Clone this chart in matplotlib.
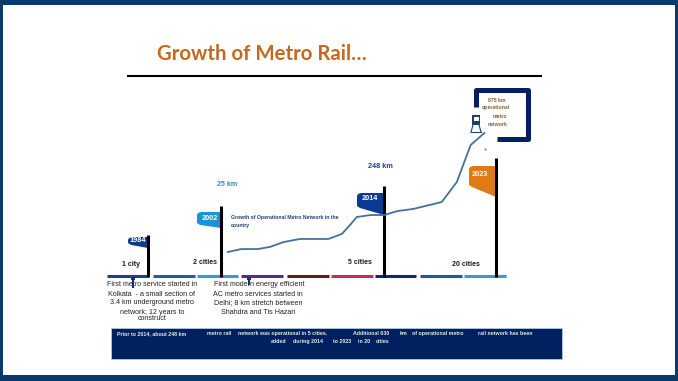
"""Growth of Metro Rail slide, redrawn with matplotlib."""

import matplotlib
matplotlib.use("Agg")
import matplotlib.pyplot as plt
import numpy as np
from matplotlib.patches import Polygon, Rectangle

W, H = 678, 381

NAVY = "#002060"
FRAME = "#0a3a6b"
ORANGE = "#c8681e"

# operational network
line_years = [2002.5, 2003.5, 2004.7, 2005.6, 2006.6, 2007.8, 2009.9, 2010.9, 2011.5, 2012.0,
              2013.0, 2014.0, 2015.1, 2016.3, 2018.6, 2019.8, 2020.9, 2022.0]
line_km = [25, 46, 46, 61, 96, 118, 118, 154, 218, 275, 289, 289, 318, 332, 382, 525, 789, 875]

flag_years = [1984, 2002, 2014, 2023]
flag_x = [148, 221, 384, 496]
flag_top = [235, 206, 186, 158]
flag_colors = ["#0f3a8c", "#1a94d6", "#0b3a94", "#e07b14"]

segment_starts = [107, 153, 197, 241, 287, 331, 375, 420, 464]
segment_ends = [148, 195, 238, 283, 329, 373, 416, 462, 506]
segment_colors = ["#1f3f8f", "#1f5fa0", "#2a9fd0", "#5b2d82", "#5c1f1f",
                  "#c0305a", "#13296b", "#1f5a9c", "#2ea0cc"]

city_labels = ["1 city", "2 cities", "5 cities", "20 cities"]
city_x = [131, 205, 360, 466]
city_y = [265, 263, 263, 264]


def flag(ax, x, top, left, left_bottom, bottom, color):
    # flat top, rounded outer corner, bottom slanting down to the pole
    pts = [(x, top), (left + 4, top), (left + 1, top + 1), (left, top + 3),
           (left, left_bottom - 2), (left + 3, left_bottom), (x, bottom)]
    ax.add_patch(Polygon(pts, closed=True, fc=color, ec="none", zorder=3))


def main():
    plt.rcParams["font.family"] = ["Liberation Sans", "DejaVu Sans"]
    fig = plt.figure(figsize=(W / 100, H / 100), dpi=100, facecolor=FRAME)
    ax = fig.add_axes([0, 0, 1, 1])
    ax.set_xlim(0, W)
    ax.set_ylim(H, 0)
    ax.axis("off")

    ax.add_patch(Rectangle((3, 5), 672, 370, fc="white", ec="none", zorder=0))

    ax.text(157, 54, "Growth of Metro Rail…", fontsize=14.7, fontweight="bold", color=ORANGE,
            ha="left", va="center", family=["Lato", "Liberation Sans"])
    ax.plot([127, 542], [76, 76], color="black", lw=1.5, solid_capstyle="butt")

    for start, end, color in zip(segment_starts, segment_ends, segment_colors):
        ax.plot([start, end], [276, 276], color=color, lw=2.2, solid_capstyle="butt", zorder=2)

    for x, top in zip(flag_x, flag_top):
        ax.plot([x, x], [top, 277], color="black", lw=2.2, solid_capstyle="butt", zorder=4)

    flag(ax, flag_x[0], 237, 128, 245, 248, flag_colors[0])
    flag(ax, flag_x[1], 212, 197, 225, 228, flag_colors[1])
    flag(ax, flag_x[2], 193, 357, 208, 215, flag_colors[2])
    flag(ax, flag_x[3], 166, 469, 187, 197, flag_colors[3])

    flag_text_pos = [(138, 240), (210, 218), (370, 199), (480, 174)]
    for year, (x, y) in zip(flag_years, flag_text_pos):
        ax.text(x, y, str(year), fontsize=5.3, fontweight="bold", color="white",
                ha="center", va="center", zorder=5)

    for label, x, y in zip(city_labels, city_x, city_y):
        ax.text(x, y, label, fontsize=5, fontweight="bold", color="#1a1a1a",
                ha="center", va="center")

    ax.text(227, 184, "25 km", fontsize=5, fontweight="bold", color="#2a8fb8", ha="center", va="center")
    ax.text(380, 166, "248 km", fontsize=5.2, fontweight="bold", color="#1f3f8f", ha="center", va="center")
    ax.text(231, 218, "Growth of Operational Metro Network in the", fontsize=3.7, fontweight="bold",
            color="#1f3f6f", ha="left", va="center")
    ax.text(231, 226, "country", fontsize=3.7, fontweight="bold", color="#1f3f6f", ha="left", va="center")

    # pins under the timeline
    for x, end in [(133, 288), (249, 285)]:
        ax.plot([x, x], [277, end], color="#0f2f6f", lw=1.5, solid_capstyle="butt", zorder=5)
        ax.plot([x - 2, x + 2], [279, 279], color="#0f2f6f", lw=1.5, solid_capstyle="butt", zorder=5)

    left_note = ["First metro service started in", "Kolkata  - a small section of",
                 "3.4 km underground metro", "network; 12 years to", "construct"]
    left_y = [285, 295, 303, 312, 319]
    left_x = [152.5, 152, 152, 152, 152]
    for text, x, y in zip(left_note, left_x, left_y):
        ax.text(x, y, text, fontsize=5.1, color="#222222", ha="center", va="center")
    right_note = ["First modern energy efficient", "AC metro services started in",
                  "Delhi; 8 km stretch between", "Shahdra and Tis Hazari"]
    right_y = [285, 295, 303, 312]
    right_x = [259, 258, 258, 258]
    for text, x, y in zip(right_note, right_x, right_y):
        ax.text(x, y, text, fontsize=5.1, color="#222222", ha="center", va="center")

    # banner
    ax.add_patch(Rectangle((111, 328), 451, 31, fc=NAVY, ec="#bcd6ee", lw=0.5))
    top_parts = [(117, "Prior to 2014, about 248 km"), (207, "metro rail"),
                 (238, "network was operational in 5 cities."), (353, "Additional 630"),
                 (400, "km"), (412, "of operational metro"), (478, "rail network has been")]
    low_parts = [(271, "added"), (293, "during 2014"), (333, "to 2023"), (358, "in 20"), (376, "cities")]
    for x, text in top_parts:
        ax.text(x, 333.5, text, fontsize=3.8, fontweight="bold", color="#e8e8e8", ha="left", va="center")
    for x, text in low_parts:
        ax.text(x, 341.5, text, fontsize=3.8, fontweight="bold", color="#e8e8e8", ha="left", va="center")

    # callout bracket and train
    ax.plot([475.5, 475.5, 528, 528, 497], [107, 90, 90, 139, 139], color=NAVY, lw=3.6,
            solid_joinstyle="round", solid_capstyle="butt")
    for text, x, y in [("875 km", 497, 100), ("operational", 496, 108), ("metro", 500, 116), ("network", 498, 124)]:
        ax.text(x, y, text, fontsize=3.7, fontweight="bold", color="#8a5a3a", ha="center", va="center")
    ax.add_patch(Rectangle((472, 115), 8, 10, fc="#1f3f6f", ec="none", zorder=3))
    ax.add_patch(Rectangle((473.5, 117), 5, 3.5, fc="white", ec="none", zorder=4))
    ax.plot([473, 471], [125, 132], color="#1f3f6f", lw=0.8)
    ax.plot([479, 481], [125, 132], color="#1f3f6f", lw=0.8)
    ax.plot([471, 481], [132, 132], color="#1f3f6f", lw=0.8)
    ax.plot([485], [149], marker=".", ms=1.5, color="#999999")

    # network line on its own year/km axes, lined up with the poles
    forward = lambda v: np.interp(v, [2002, 2014, 2023], [221, 384, 497])
    inverse = lambda v: np.interp(v, [221, 384, 497], [2002, 2014, 2023])
    lax = fig.add_axes([221 / W, 1 - 252 / H, (497 - 221) / W, (252 - 133) / H])
    lax.set_xscale("function", functions=(forward, inverse))
    lax.set_xlim(2002, 2023)
    lax.set_ylim(25, 875)
    lax.plot(line_years, line_km, color="#44719c", lw=1.3, clip_on=False)
    lax.axis("off")

    fig.savefig("out.png", dpi=100, facecolor=fig.get_facecolor())
    plt.close(fig)


if __name__ == "__main__":
    main()
